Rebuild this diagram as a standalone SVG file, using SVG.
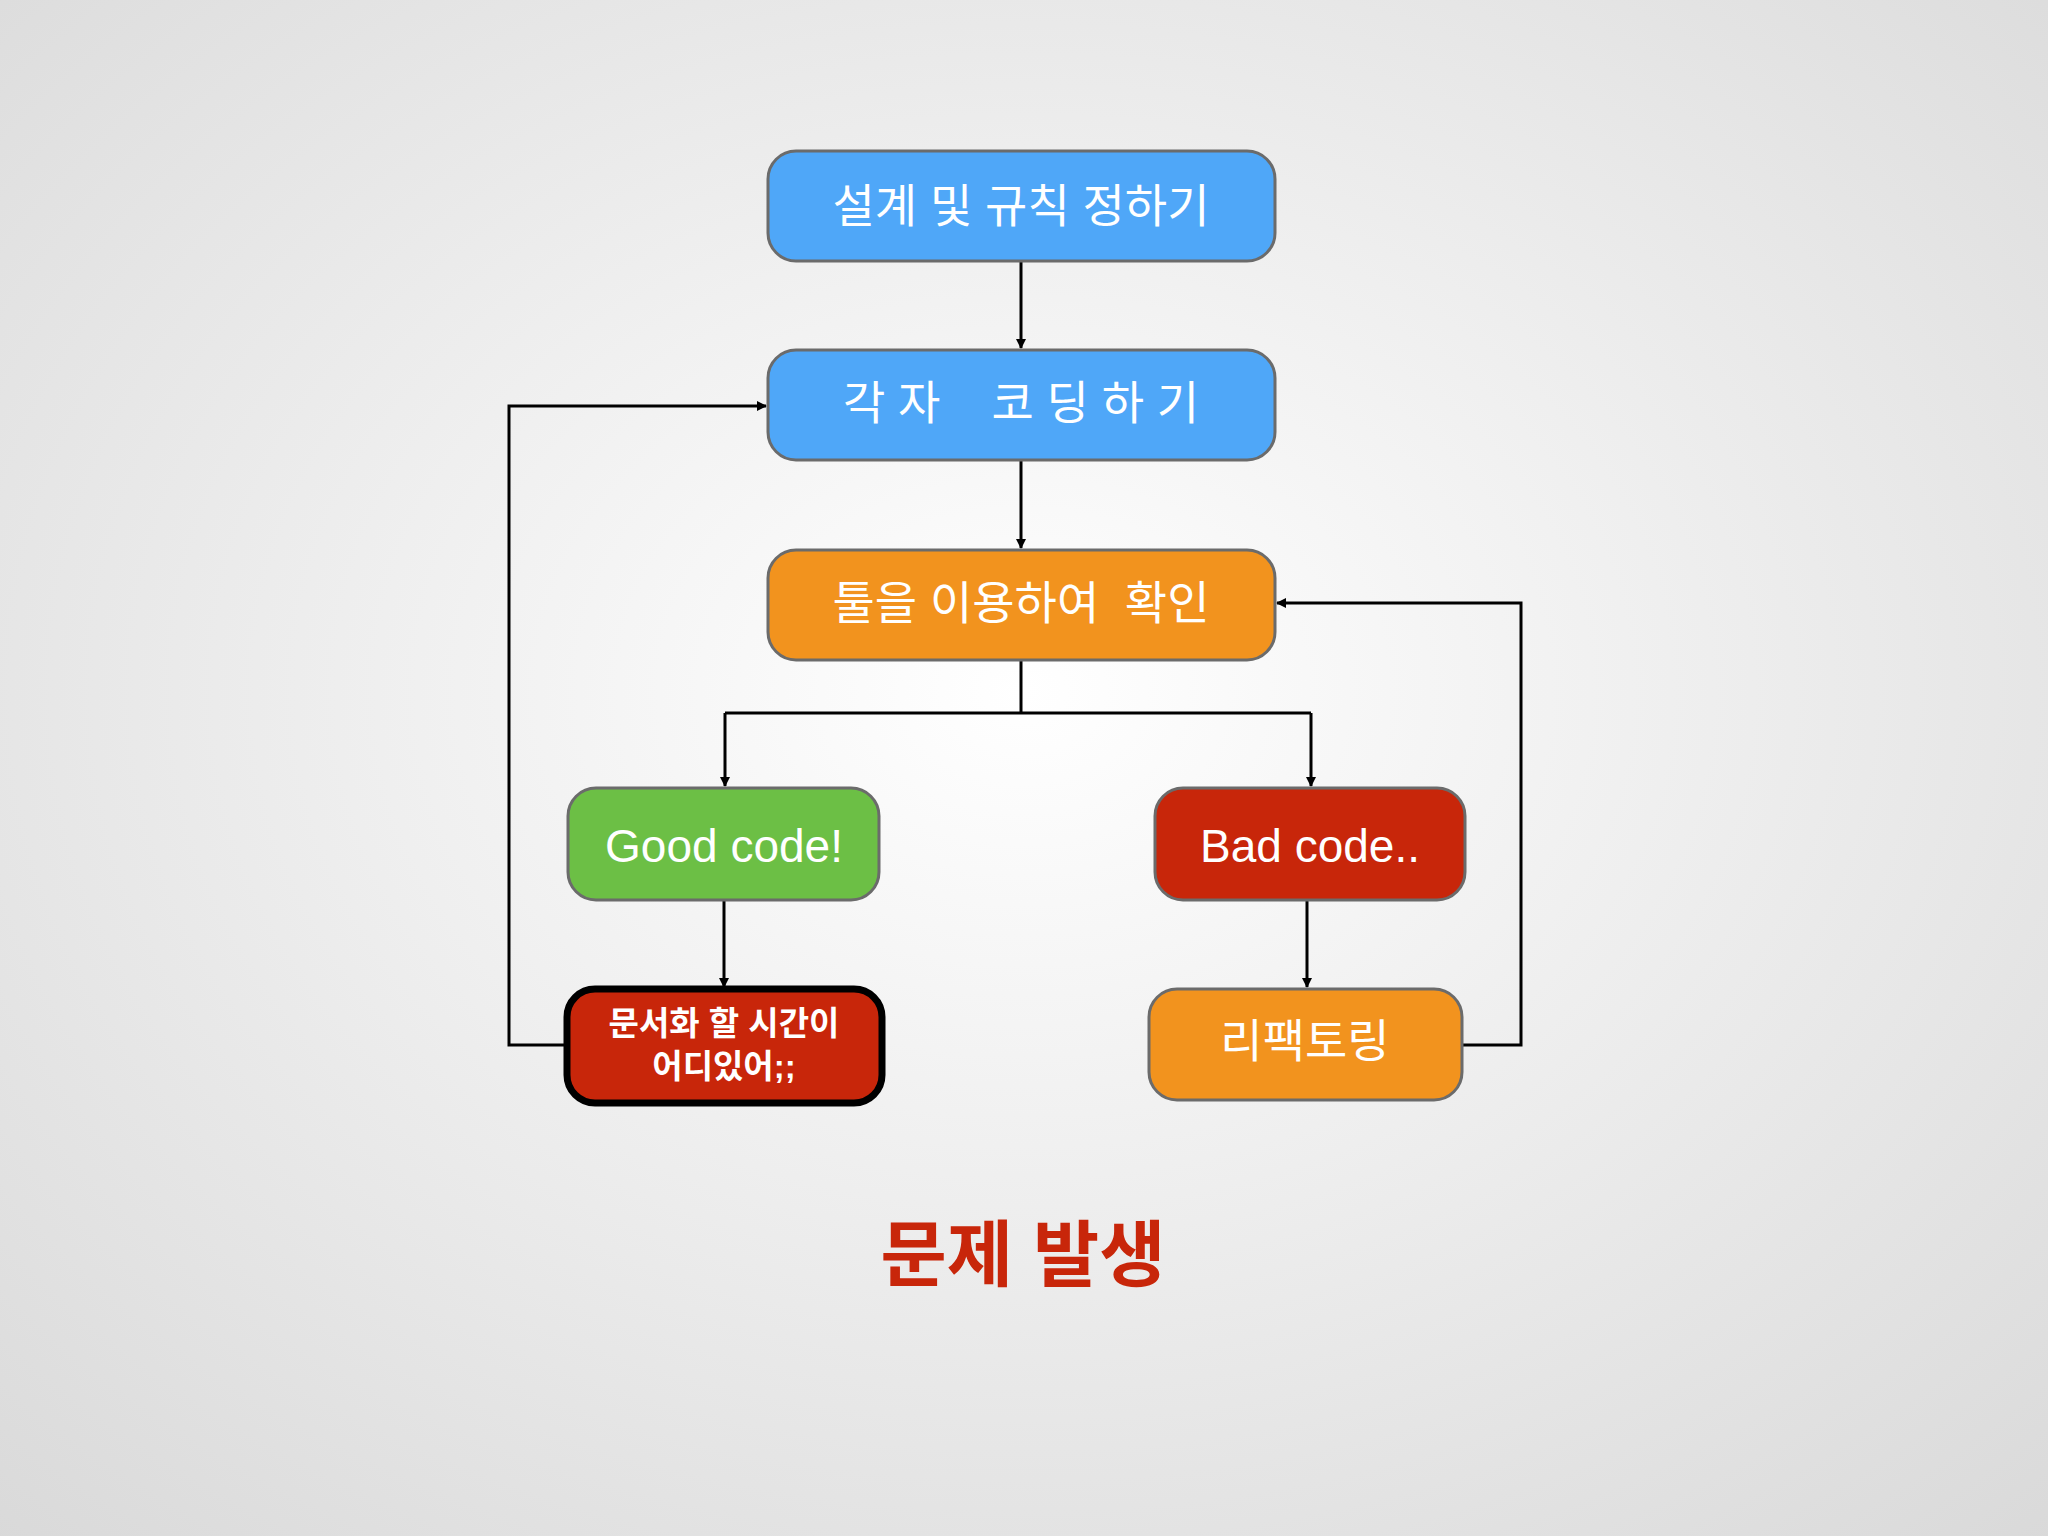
<svg xmlns="http://www.w3.org/2000/svg" width="2048" height="1536" viewBox="0 0 2048 1536">
<defs>
<radialGradient id="bg" cx="50%" cy="45%" r="75%">
<stop offset="0" stop-color="#ffffff"/><stop offset="1" stop-color="#d9d9d9"/>
</radialGradient>
<marker id="ah" markerWidth="10" markerHeight="10" refX="9" refY="5" orient="auto" markerUnits="userSpaceOnUse" viewBox="0 0 10 10">
<path d="M0,0 L10,5 L0,10 z" fill="#000"/>
</marker>
<style>
.box{stroke:#6b6b6b;stroke-width:3}
.t{font-family:"Liberation Sans","Noto Sans CJK KR",sans-serif;fill:#fff;text-anchor:middle;dominant-baseline:central}
.c{fill:none;stroke:#000;stroke-width:3;marker-end:url(#ah)}
.c2{fill:none;stroke:#000;stroke-width:3}
</style>
</defs>
<rect width="2048" height="1536" fill="url(#bg)"/>
<g id="connectors">
<path class="c" d="M1021,261 V348"/>
<path class="c" d="M1021,460 V548"/>
<path class="c2" d="M1021,660 V713"/>
<path class="c" d="M725,713 H1021 M725,713 V786"/>
<path class="c" d="M1311,713 H1021 M1311,713 V786"/>
<path class="c" d="M724,900 V987"/>
<path class="c" d="M1307,900 V987"/>
<path class="c" d="M567,1045 H509 V406 H766"/>
<path class="c" d="M1462,1045 H1521 V603 H1277"/>
</g>
<g id="n1"><rect class="box" x="768" y="151" width="507" height="110" rx="28" fill="#4FA7F8"/><text class="t" x="1021" y="206" font-size="46">설계 및 규칙 정하기</text></g>
<g id="n2"><rect class="box" x="768" y="350" width="507" height="110" rx="28" fill="#4FA7F8"/><text class="t" x="1021" y="403" font-size="46" xml:space="preserve">각 자    코 딩 하 기</text></g>
<g id="n3"><rect class="box" x="768" y="550" width="507" height="110" rx="28" fill="#F2931E"/><text class="t" x="1021" y="603" font-size="46" xml:space="preserve">툴을 이용하여  확인</text></g>
<g id="n4"><rect class="box" x="568" y="788" width="311" height="112" rx="28" fill="#6CBF45"/><text class="t" x="724" y="846" font-size="46">Good code!</text></g>
<g id="n5"><rect class="box" x="1155" y="788" width="310" height="112" rx="28" fill="#C8260A"/><text class="t" x="1310" y="846" font-size="46">Bad code..</text></g>
<g id="n6"><rect x="567" y="989" width="315" height="114" rx="28" fill="#C8260A" stroke="#000" stroke-width="7"/><text class="t" x="724" y="1023" font-size="33" font-weight="bold">문서화 할 시간이</text><text class="t" x="724" y="1066" font-size="33" font-weight="bold">어디있어;;</text></g>
<g id="n7"><rect class="box" x="1149" y="989" width="313" height="111" rx="28" fill="#F2931E"/><text class="t" x="1305" y="1041" font-size="46">리팩토링</text></g>
<text x="1023" y="1255" font-family="'Liberation Sans','Noto Sans CJK KR',sans-serif" font-size="72" font-weight="bold" fill="#C8260A" text-anchor="middle" dominant-baseline="central">문제 발생</text>
</svg>
